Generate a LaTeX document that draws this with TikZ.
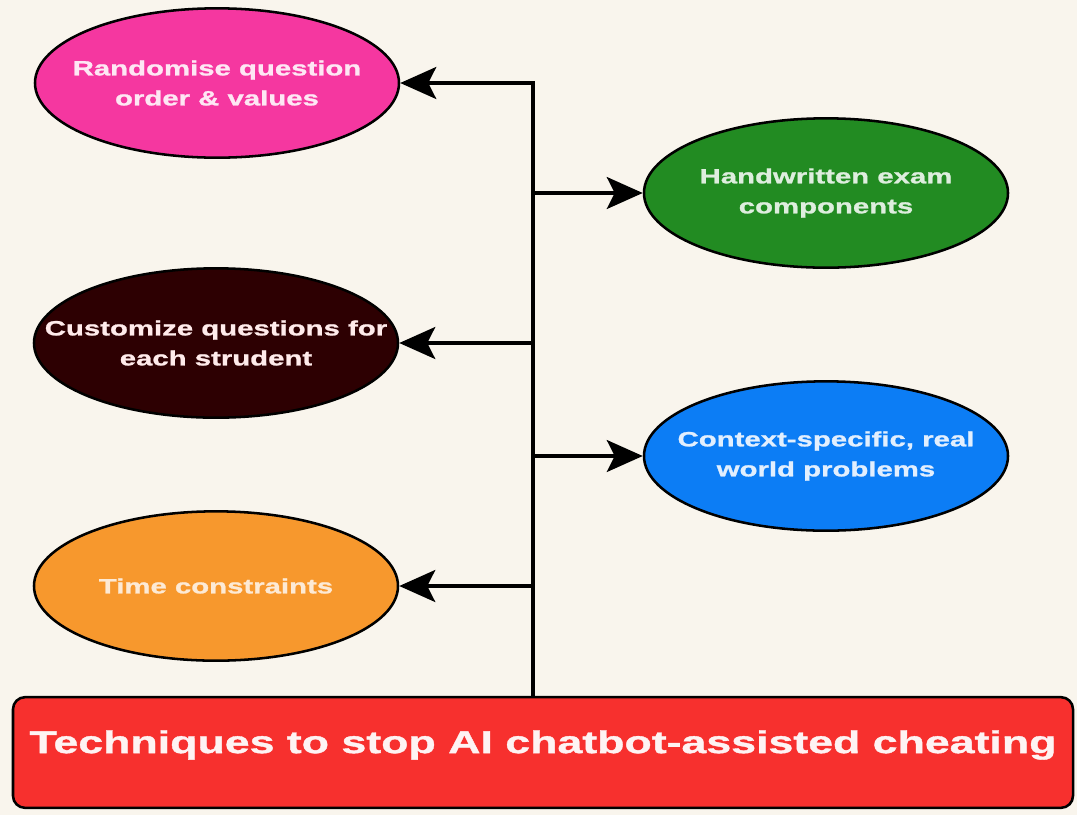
\documentclass[tikz,border=0pt]{standalone}
\usepackage{fontspec}
\newfontfamily\diagfont[FakeStretch=1.42, BoldFeatures={FakeBold=1.2}]{Liberation Sans}
\usetikzlibrary{arrows.meta,
                  shapes.geometric,
                  positioning}
\definecolor{bgcream}{RGB}{249,245,237}
\definecolor{randpink}{RGB}{245,55,160}
\definecolor{handgreen}{RGB}{34,139,34}
\definecolor{custbrown}{RGB}{45,0,2}
\definecolor{ctxblue}{RGB}{12,125,245}
\definecolor{timeorange}{RGB}{247,152,45}
\definecolor{titlered}{RGB}{247,48,46}

\begin{document}
\begin{tikzpicture}[x=0.75pt, y=-0.75pt, every node/.style={font=\diagfont\bfseries}]
    \tikzset{
    oval/.style = {draw=black, shape=ellipse, line width=1.9pt, minimum width=273pt, minimum height=112pt, inner sep=0pt},
    ovaltext/.style = {align=center, inner sep=0pt, font=\diagfont\bfseries\fontsize{15.5}{22.5}\selectfont},
    titlebox/.style = {draw=black, shape=rectangle, rounded corners=9pt, line width=1.9pt, minimum width=795pt, minimum height=83pt, fill=titlered},
    line/.style = {draw, line width=2.3pt, -{Stealth[length=27pt, width=24pt, inset=6pt]}}
}
\fill[bgcream] (0,0) rectangle (1077,815);

\node [oval, fill=randpink] (rand) at (217,83) {};
\node [ovaltext, text=white!88!randpink] (randtxt) at (rand) {Randomise question\\order \& values};
\node [oval, fill=handgreen] (hand) at (826,193) {};
\node [ovaltext, text=white!85!handgreen] (handtxt) at (hand) {Handwritten exam\\components};
\node [oval, fill=custbrown] (cust) at (216,343) {};
\node [ovaltext, text=white!92!red] (custtxt) at (cust) {Customize questions for\\each strudent};
\node [oval, fill=ctxblue] (ctx) at (826,456) {};
\node [ovaltext, text=white!88!ctxblue] (ctxtxt) at (ctx) {Context-specific, real\\world problems};
\node [oval, fill=timeorange] (time) at (216,586) {};
\node [ovaltext, text=white!80!timeorange] (timetxt) at (time) {Time constraints};

\node [titlebox] (techniques) at (543,752.5) {};
\node [inner sep=0pt, text=white!94!titlered, font=\diagfont\bfseries\fontsize{23.6}{28}\selectfont] (techtxt) at (543,745) {Techniques to stop AI chatbot-assisted cheating};

\coordinate (trunk) at (533,697);

\path [line] (trunk) |- (rand.east);
\path [line] (trunk |- hand) -- (hand.west);
\path [line] (trunk |- cust) -- (cust.east);
\path [line] (trunk |- ctx) -- (ctx.west);
\path [line] (trunk |- time) -- (time.east);

\end{tikzpicture}
\end{document}
